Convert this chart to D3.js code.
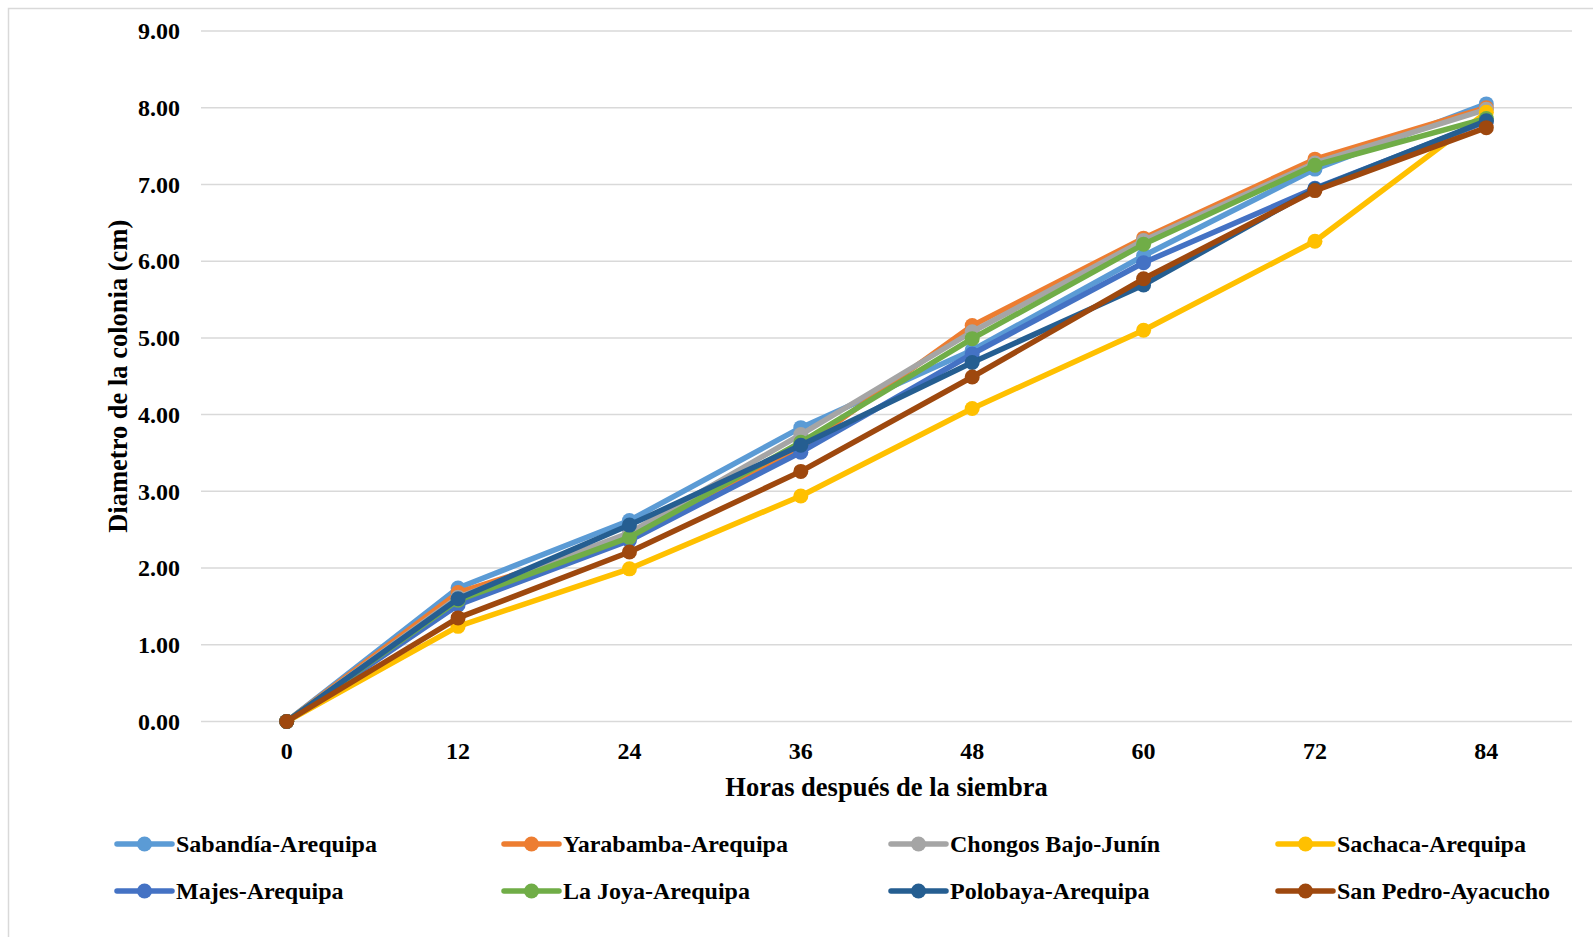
<!DOCTYPE html>
<html>
<head>
<meta charset="utf-8">
<script src="https://cdn.jsdelivr.net/npm/d3@7"></script>
<style>
  html, body { margin: 0; padding: 0; background: #fff; }
  svg { display: block; }
  text { font-family: "Liberation Serif", "Times New Roman", serif; font-weight: bold; fill: #000; }
</style>
</head>
<body>
<svg id="chart" width="1593" height="937"></svg>
<script>
const hours = ["0", "12", "24", "36", "48", "60", "72", "84"];
const yTicks = [0, 1, 2, 3, 4, 5, 6, 7, 8, 9];

const seriesNames = [
  "Sabandía-Arequipa", "Yarabamba-Arequipa", "Chongos Bajo-Junín", "Sachaca-Arequipa",
  "Majes-Arequipa", "La Joya-Arequipa", "Polobaya-Arequipa", "San Pedro-Ayacucho"
];
const seriesColors = [
  "#5B9BD5", "#ED7D31", "#A5A5A5", "#FFC000",
  "#4472C4", "#70AD47", "#255E91", "#9E480E"
];

const sabandia  = [0, 1.74, 2.62, 3.83, 4.84, 6.07, 7.20, 8.05];
const yarabamba = [0, 1.68, 2.39, 3.56, 5.16, 6.30, 7.33, 8.00];
const chongos   = [0, 1.62, 2.46, 3.74, 5.08, 6.27, 7.28, 7.98];
const sachaca   = [0, 1.24, 1.99, 2.94, 4.08, 5.10, 6.26, 7.94];
const majes     = [0, 1.52, 2.36, 3.51, 4.79, 5.98, 6.95, 7.82];
const laJoya    = [0, 1.58, 2.40, 3.64, 4.99, 6.22, 7.25, 7.86];
const polobaya  = [0, 1.60, 2.56, 3.60, 4.68, 5.69, 6.94, 7.83];
const sanPedro  = [0, 1.35, 2.21, 3.26, 4.49, 5.77, 6.92, 7.74];

const seriesValues = [sabandia, yarabamba, chongos, sachaca, majes, laJoya, polobaya, sanPedro];

const svg = d3.select("#chart");

// outer chart border (left/top visible)
svg.append("rect")
  .attr("x", 8.5).attr("y", 8.5)
  .attr("width", 1600).attr("height", 1000)
  .attr("fill", "none").attr("stroke", "#d9d9d9").attr("stroke-width", 1.5);

const plot = { left: 201, right: 1572, top: 31, bottom: 721.5 };

const x = d3.scaleBand().domain(hours).range([plot.left, plot.right]).padding(0);
const y = d3.scaleLinear().domain([0, 9]).range([plot.bottom, plot.top]);
const cx = h => x(h) + x.bandwidth() / 2;

// gridlines
svg.append("g")
  .selectAll("line").data(yTicks).join("line")
  .attr("x1", plot.left).attr("x2", plot.right)
  .attr("y1", d => y(d)).attr("y2", d => y(d))
  .attr("stroke", "#d9d9d9").attr("stroke-width", 1.5);

// y axis labels
const yAxis = d3.axisLeft(y).tickValues(yTicks).tickFormat(d3.format(".2f")).tickSize(0).tickPadding(0);
const gy = svg.append("g").attr("transform", `translate(180,0)`).call(yAxis);
gy.select(".domain").remove();
gy.selectAll("text").style("font-size", "24px").style("font-family", "Liberation Serif, serif").style("font-weight", "bold").attr("fill", "#000");

// x axis labels
const xAxis = d3.axisBottom(x).tickSize(0).tickPadding(0);
const gx = svg.append("g").attr("transform", `translate(0,${plot.bottom + 20})`).call(xAxis);
gx.select(".domain").remove();
gx.selectAll("text").style("font-size", "24px").style("font-family", "Liberation Serif, serif").style("font-weight", "bold").attr("fill", "#000");

// axis titles
svg.append("text")
  .attr("x", (plot.left + plot.right) / 2).attr("y", 796)
  .attr("text-anchor", "middle").style("font-size", "26.5px")
  .text("Horas después de la siembra");

svg.append("text")
  .attr("transform", `translate(127,${(plot.top + plot.bottom) / 2}) rotate(-90)`)
  .attr("text-anchor", "middle").style("font-size", "26.5px")
  .text("Diametro de la colonia (cm)");

// lines
const line = d3.line().x((d, i) => cx(hours[i])).y(d => y(d));
const gSeries = svg.append("g");
seriesValues.forEach((vals, si) => {
  const g = gSeries.append("g");
  g.append("path").datum(vals)
    .attr("d", line).attr("fill", "none")
    .attr("stroke", seriesColors[si]).attr("stroke-width", 5.5)
    .attr("stroke-linejoin", "round").attr("stroke-linecap", "round");
  g.selectAll("circle").data(vals).join("circle")
    .attr("cx", (d, i) => cx(hours[i])).attr("cy", d => y(d))
    .attr("r", 7.5).attr("fill", seriesColors[si]);
});

// legend
const legX = [117, 504, 891, 1278];
const legY = [844, 891];
const leg = svg.append("g");
seriesNames.forEach((name, i) => {
  const col = i % 4, row = Math.floor(i / 4);
  const g = leg.append("g").attr("transform", `translate(${legX[col]},${legY[row]})`);
  g.append("line").attr("x1", 0).attr("x2", 55).attr("y1", 0).attr("y2", 0)
    .attr("stroke", seriesColors[i]).attr("stroke-width", 5.5).attr("stroke-linecap", "round");
  g.append("circle").attr("cx", 27.5).attr("cy", 0).attr("r", 7.5).attr("fill", seriesColors[i]);
  g.append("text").attr("x", 59).attr("y", 0).attr("dy", "0.35em")
    .style("font-size", "24px").text(name);
});
</script>
</body>
</html>
